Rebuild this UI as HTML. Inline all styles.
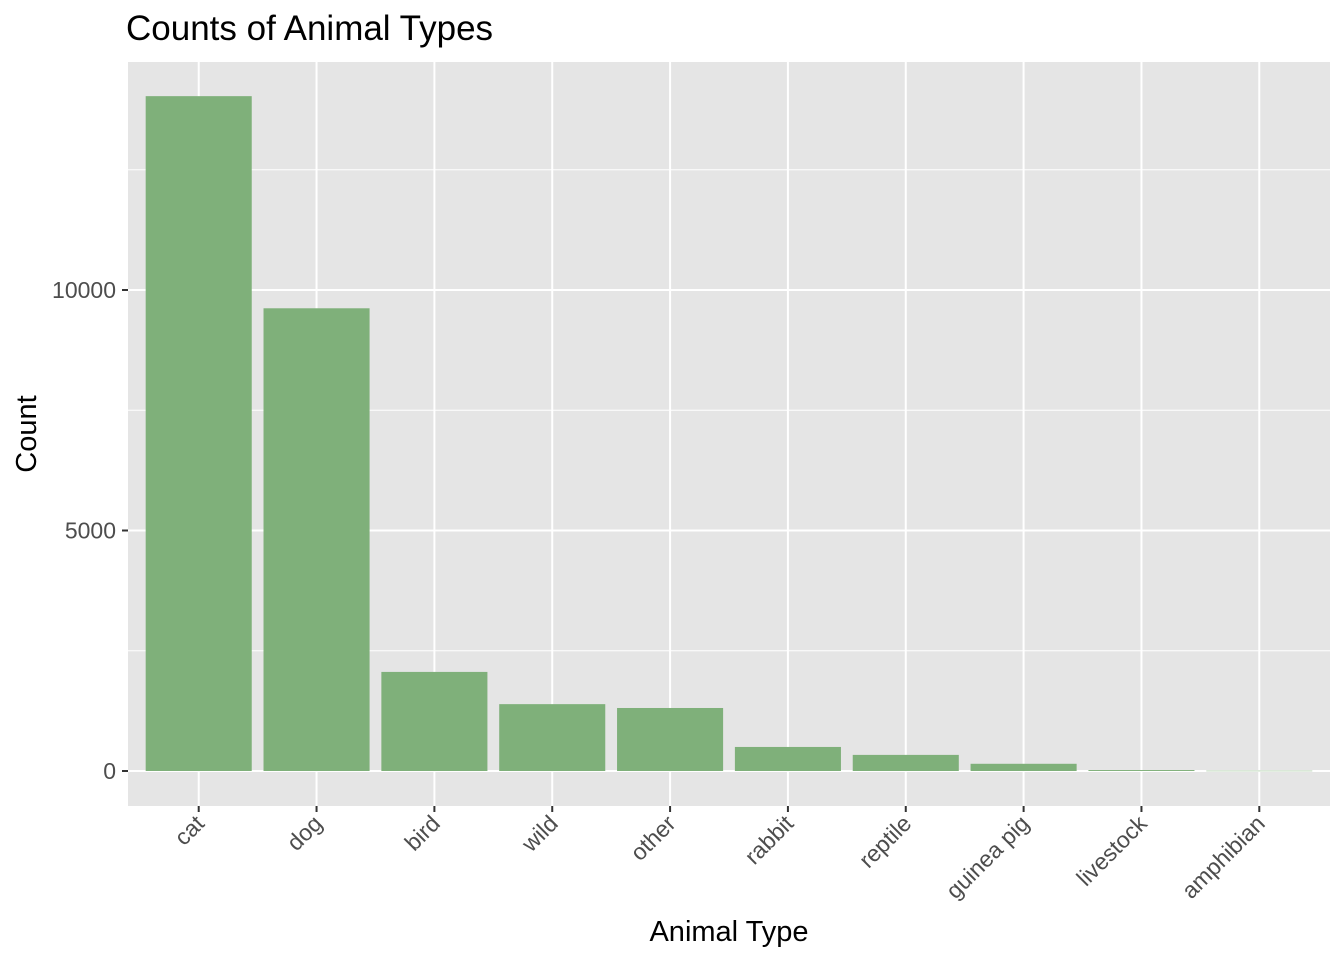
<!DOCTYPE html>
<html><head><meta charset="utf-8"><style>
body{margin:0;background:#fff;}
svg text{font-family:"Liberation Sans",Arial,sans-serif;}
</style></head><body>
<svg id="chart" width="1344" height="960" xmlns="http://www.w3.org/2000/svg">
<rect width="1344" height="960" fill="#fff"/>
<text x="126" y="40" font-size="35" fill="#000">Counts of Animal Types</text>
<rect x="128" y="62" width="1202" height="744" fill="#e5e5e5"/>
<g id="grid"></g><g id="bars"></g><g id="xaxis"></g><g id="yaxis"></g>
<text x="729" y="941" font-size="29" text-anchor="middle" fill="#000">Animal Type</text>
<text transform="translate(36,434) rotate(-90)" font-size="29" text-anchor="middle" fill="#000">Count</text>
</svg>
<script>
const categories=["cat","dog","bird","wild","other","rabbit","reptile","guinea pig","livestock","amphibian"];
const counts=[14030,9620,2060,1390,1310,500,335,150,20,6];
const yTicks=[0,5000,10000];
const yMinor=[2500,7500,12500];
const NS="http://www.w3.org/2000/svg";
const L=128,R=1330,T=62,B=806;
const step=(R-L)/(categories.length+0.2);
const x=i=>L+step*(0.6+i);
const y=v=>771-v*0.0481;
function mk(tag,attrs,parent){const e=document.createElementNS(NS,tag);for(const k in attrs)e.setAttribute(k,attrs[k]);parent.appendChild(e);return e;}
const grid=document.getElementById('grid'),bars=document.getElementById('bars'),xa=document.getElementById('xaxis'),ya=document.getElementById('yaxis');
yMinor.forEach(v=>{const l=mk('line',{x1:L,x2:R,y1:y(v),y2:y(v),stroke:'#fff','stroke-width':1},grid);

});
yTicks.forEach(v=>{const l=mk('line',{x1:L,x2:R,y1:y(v),y2:y(v),stroke:'#fff','stroke-width':2},grid);


const t=mk('line',{x1:L-6,x2:L,y1:y(v),y2:y(v),stroke:'#333','stroke-width':2},ya);


const tx=mk('text',{x:L-12,y:y(v)+8,'font-size':23,'text-anchor':'end',fill:'#4d4d4d'},ya);tx.textContent=v;

});
categories.forEach((c,i)=>{const cx=x(i);
const g=mk('line',{x1:cx,x2:cx,y1:T,y2:B,stroke:'#fff','stroke-width':2},grid);


const h=y(0)-y(counts[i]);
const b=mk('rect',{x:cx-step*0.45,y:y(counts[i]),width:step*0.9,height:Math.max(h,0.5),fill:'#7fb07a'},bars);


const t=mk('line',{x1:cx,x2:cx,y1:B,y2:B+6,stroke:'#333','stroke-width':2},xa);


const tx=mk('text',{transform:`translate(${cx+7},${B+19}) rotate(-45)`,'font-size':23,'text-anchor':'end',fill:'#4d4d4d'},xa);tx.textContent=c;

});
</script>
</body></html>
